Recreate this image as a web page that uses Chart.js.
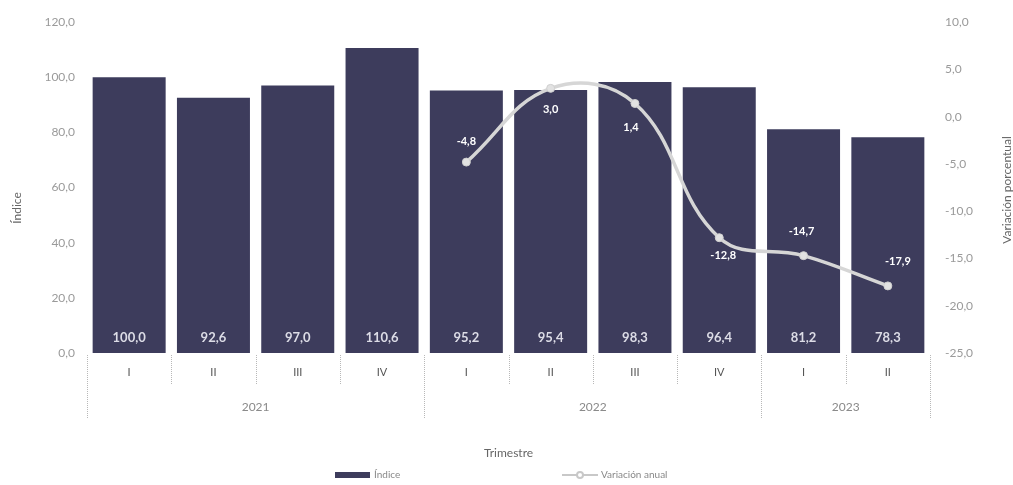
<!DOCTYPE html>
<html><head><meta charset="utf-8">
<script src="https://cdn.jsdelivr.net/npm/chart.js@4/dist/chart.umd.min.js"></script>
<style>html,body{margin:0;padding:0;background:#fff}#wrap{width:1013px;height:485px;position:relative}</style>
</head><body><div id="wrap"><canvas id="c" width="1013" height="485"></canvas></div>
<script>
const quarters = ['I','II','III','IV','I','II','III','IV','I','II'];
const years = ['2021','2022','2023'];
const yearSpans = [4,4,2];
const indice = [100.0,92.6,97.0,110.6,95.2,95.4,98.3,96.4,81.2,78.3];
const variacion = [null,null,null,null,-4.8,3.0,1.4,-12.8,-14.7,-17.9];
const leftAxis = {min:0, max:120, step:20};
const rightAxis = {min:-25, max:10, step:5};

const FONT = 'Lato, "Open Sans", sans-serif';
const fmt = v => v.toFixed(1).replace('.', ',');
const BAR = '#3d3c5c';
const LINE = '#d6d6d6';

// label placement for the line's value labels (style, not data)
const lineLabelPlace = [0,0,0,0,-21,21,24,18,-24,-24];
const lineLabelDx = [0,0,0,0,0,0,-4,4,-2,10];

const deco = {
  id: 'deco',
  afterDatasetsDraw(chart) {
    const ctx = chart.ctx;
    const y = chart.scales.y, y1 = chart.scales.y1;
    ctx.save();
    // bar labels
    const m0 = chart.getDatasetMeta(0);
    ctx.font = 'bold 13px ' + FONT;
    ctx.fillStyle = '#dcdce6';
    ctx.textAlign = 'center'; ctx.textBaseline = 'middle';
    m0.data.forEach((el, i) => {
      ctx.fillText(fmt(indice[i]), el.x, y.getPixelForValue(0) - 15);
    });
    // line labels
    const m1 = chart.getDatasetMeta(1);
    ctx.font = 'bold 11px ' + FONT;
    ctx.fillStyle = '#ffffff';
    m1.data.forEach((el, i) => {
      if (variacion[i] === null) return;
      ctx.fillText(fmt(variacion[i]), el.x + lineLabelDx[i], el.y + lineLabelPlace[i]);
    });
    ctx.restore();
  },
  afterDraw(chart) {
    const ctx = chart.ctx;
    const x = chart.scales.x;
    const ca = chart.chartArea;
    const step = x.getPixelForValue(1) - x.getPixelForValue(0);
    const bnd = i => x.getPixelForValue(i) - step / 2;
    ctx.save();
    // dividers
    ctx.strokeStyle = '#b8b8b8';
    ctx.lineWidth = 1;
    ctx.setLineDash([1, 1]);
    const yearBounds = [0];
    let acc = 0; yearSpans.forEach(s => { acc += s; yearBounds.push(acc); });
    for (let i = 0; i <= quarters.length; i++) {
      const bx = Math.round(bnd(i)) + 0.5;
      const long = yearBounds.includes(i);
      ctx.beginPath();
      ctx.moveTo(bx, ca.bottom + 2);
      ctx.lineTo(bx, ca.bottom + (long ? 65 : 32));
      ctx.stroke();
    }
    ctx.setLineDash([]);
    // years
    ctx.font = '12px ' + FONT;
    ctx.fillStyle = '#8a8a8a';
    ctx.textAlign = 'center'; ctx.textBaseline = 'middle';
    years.forEach((yr, k) => {
      const cx = (bnd(yearBounds[k]) + bnd(yearBounds[k + 1])) / 2;
      ctx.fillText(yr, cx, ca.bottom + 54);
    });
    // axis titles
    ctx.fillStyle = '#666';
    ctx.font = '12px ' + FONT;
    ctx.fillText('Trimestre', (ca.left + ca.right) / 2, 453);
    ctx.save();
    ctx.translate(17, 208); ctx.rotate(-Math.PI / 2);
    ctx.fillText('Índice', 0, 0);
    ctx.restore();
    ctx.save();
    ctx.translate(1007, 190); ctx.rotate(-Math.PI / 2);
    ctx.fillText('Variación porcentual', 0, 0);
    ctx.restore();
    // legend
    ctx.font = '10px ' + FONT;
    ctx.fillStyle = '#888';
    ctx.textAlign = 'left';
    ctx.fillStyle = BAR;
    ctx.fillRect(335, 472, 35, 6);
    ctx.fillStyle = '#888';
    ctx.fillText(chart.data.datasets[0].label, 374, 475);
    ctx.strokeStyle = '#c8c8c8'; ctx.lineWidth = 2;
    ctx.beginPath(); ctx.moveTo(562, 475); ctx.lineTo(598, 475); ctx.stroke();
    ctx.beginPath(); ctx.arc(580, 475, 3, 0, Math.PI * 2);
    ctx.fillStyle = '#fff'; ctx.fill(); ctx.stroke();
    ctx.fillStyle = '#888';
    ctx.fillText(chart.data.datasets[1].label, 601, 475);
    ctx.restore();
  }
};

new Chart(document.getElementById('c'), {
  data: {
    labels: quarters,
    datasets: [
      {type: 'bar', label: 'Índice', data: indice, yAxisID: 'y', backgroundColor: BAR,
       barPercentage: 0.866, categoryPercentage: 1, order: 2},
      {type: 'line', label: 'Variación anual', data: variacion, yAxisID: 'y1',
       borderColor: LINE, borderWidth: 3.5, tension: 0.4, pointRadius: 4,
       pointBackgroundColor: '#e2e2e2', pointBorderColor: '#d0d0d0', pointBorderWidth: 1, order: 1}
    ]
  },
  options: {
    responsive: false, animation: false, devicePixelRatio: 1,
    layout: {padding: {top: 22, left: 0, right: 0, bottom: 0}},
    plugins: {legend: {display: false}, tooltip: {enabled: false}},
    scales: {
      x: {
        grid: {display: false, drawTicks: false}, border: {display: false},
        ticks: {color: '#555', font: {family: FONT, size: 11}, padding: 13, maxRotation: 0, autoSkip: false},
        afterFit: s => { s.height = 132; }
      },
      y: {
        position: 'left', min: leftAxis.min, max: leftAxis.max,
        grid: {display: false, drawTicks: false}, border: {display: false},
        ticks: {stepSize: leftAxis.step, color: '#9a9a9a', font: {family: FONT, size: 12}, padding: 12,
                callback: v => fmt(v)},
        afterFit: s => { s.width = 87; }
      },
      y1: {
        position: 'right', min: rightAxis.min, max: rightAxis.max,
        grid: {display: false, drawTicks: false}, border: {display: false},
        ticks: {stepSize: rightAxis.step, color: '#9a9a9a', font: {family: FONT, size: 12}, padding: 15,
                callback: v => fmt(v)},
        afterFit: s => { s.width = 83; }
      }
    }
  },
  plugins: [deco]
});
</script></body></html>
